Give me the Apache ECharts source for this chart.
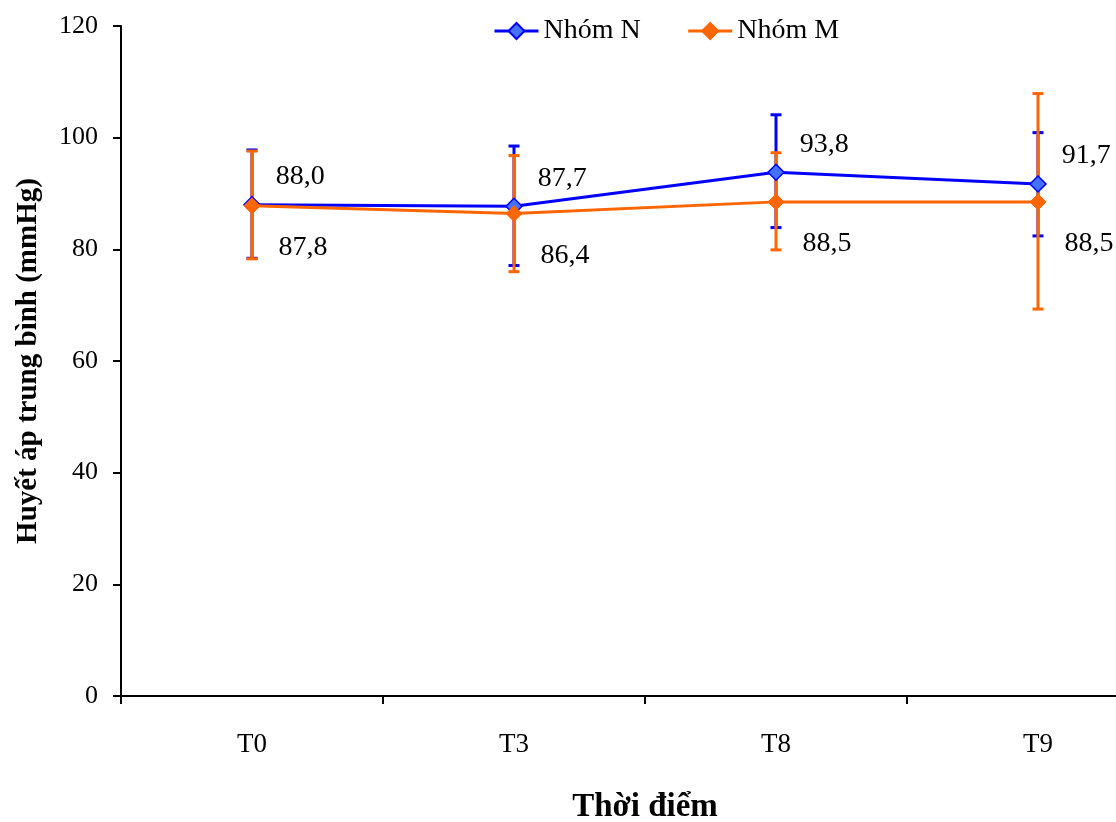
<!DOCTYPE html>
<html>
<head>
<meta charset="utf-8">
<script src="https://cdn.jsdelivr.net/npm/echarts@6/dist/echarts.min.js"></script>
<style>html,body{margin:0;padding:0;background:#fff;overflow:hidden;width:1116px;height:822px;}#c{width:1169px;height:822px;}</style>
</head>
<body>
<div id="c"></div>
<script>
const categories = ['T0', 'T3', 'T8', 'T9'];
const seriesNames = ['Nhóm N', 'Nhóm M'];
const meanN = [88.0, 87.7, 93.8, 91.7];
const meanM = [87.8, 86.4, 88.5, 88.5];
const lowN = [78.4, 77.1, 83.9, 82.4];
const highN = [97.8, 98.5, 104.1, 100.9];
const lowM = [78.3, 76.0, 79.9, 69.3];
const highM = [97.6, 96.8, 97.3, 107.9];
const yTicks = { min: 0, max: 120, interval: 20 };

const FONT = '"Liberation Serif", "Times New Roman", serif';
const BLUE = '#0000FF';
const BLUE_FILL = '#4472FF';
const ORANGE = '#FF6600';

function errData(lo, hi) { return categories.map((c, i) => [i, lo[i], hi[i]]); }
function errSeries(name, lo, hi, color, z) {
  return {
    type: 'custom', name: name + ' err', z: z, silent: true,
    data: errData(lo, hi),
    encode: { x: 0, y: [1, 2] },
    renderItem: function (params, api) {
      const x = api.value(0);
      const top = api.coord([x, api.value(2)]);
      const bot = api.coord([x, api.value(1)]);
      const hw = 5.5;
      const st = { stroke: color, lineWidth: 3 };
      return { type: 'group', children: [
        { type: 'line', shape: { x1: top[0], y1: top[1], x2: bot[0], y2: bot[1] }, style: st },
        { type: 'line', shape: { x1: top[0] - hw, y1: top[1], x2: top[0] + hw, y2: top[1] }, style: st },
        { type: 'line', shape: { x1: bot[0] - hw, y1: bot[1], x2: bot[0] + hw, y2: bot[1] }, style: st }
      ]};
    }
  };
}
function fmt(p) { return Number(p.value).toFixed(1).replace('.', ','); }

const chart = echarts.init(document.getElementById('c'));
chart.setOption({
  animation: false,
  backgroundColor: '#fff',
  textStyle: { fontFamily: FONT },
  grid: { left: 121, right: 0, top: 26, bottom: 126, containLabel: false, outerBoundsMode: 'none' },
  legend: {
    top: 12, left: 488, itemWidth: 44, itemHeight: 20, itemGap: 46,
    textStyle: { fontFamily: FONT, fontSize: 28, color: '#000' },
    lineStyle: { width: 3 },
    data: seriesNames
  },
  xAxis: {
    type: 'category', data: categories, boundaryGap: true,
    name: 'Thời điểm', nameLocation: 'middle', nameGap: 95,
    nameTextStyle: { fontFamily: FONT, fontSize: 33, fontWeight: 'bold', color: '#000' },
    axisLine: { lineStyle: { color: '#000', width: 2 } },
    axisTick: { show: true, length: 8, inside: false, lineStyle: { color: '#000', width: 2 } },
    axisLabel: { fontFamily: FONT, fontSize: 27, color: '#000', margin: 35 },
    splitLine: { show: false }
  },
  yAxis: {
    type: 'value', min: yTicks.min, max: yTicks.max, interval: yTicks.interval,
    name: 'Huyết áp trung bình (mmHg)', nameLocation: 'middle', nameGap: 78, nameRotate: 90,
    nameTextStyle: { fontFamily: FONT, fontSize: 29, fontWeight: 'bold', color: '#000' },
    axisLine: { show: true, lineStyle: { color: '#000', width: 2 } },
    axisTick: { show: true, length: 8, lineStyle: { color: '#000', width: 2 } },
    axisLabel: { fontFamily: FONT, fontSize: 26, color: '#000', margin: 23 },
    splitLine: { show: false }
  },
  series: [
    errSeries('N', lowN, highN, BLUE, 1),
    errSeries('M', lowM, highM, ORANGE, 2),
    {
      name: seriesNames[0], type: 'line', data: meanN, z: 4,
      symbol: 'diamond', symbolSize: 16,
      lineStyle: { color: BLUE, width: 3 },
      itemStyle: { color: BLUE_FILL, borderColor: BLUE, borderWidth: 1.5 },
      label: { show: true, position: 'right', distance: 5, offset: [10, -28], formatter: fmt,
        fontFamily: FONT, fontSize: 28, color: '#000' }
    },
    {
      name: seriesNames[1], type: 'line', data: meanM, z: 5,
      symbol: 'diamond', symbolSize: 16,
      lineStyle: { color: ORANGE, width: 3 },
      itemStyle: { color: ORANGE, borderColor: ORANGE, borderWidth: 1 },
      label: { show: true, position: 'right', distance: 5, offset: [13, 42], formatter: fmt,
        fontFamily: FONT, fontSize: 28, color: '#000' }
    }
  ]
});
</script>
</body>
</html>
